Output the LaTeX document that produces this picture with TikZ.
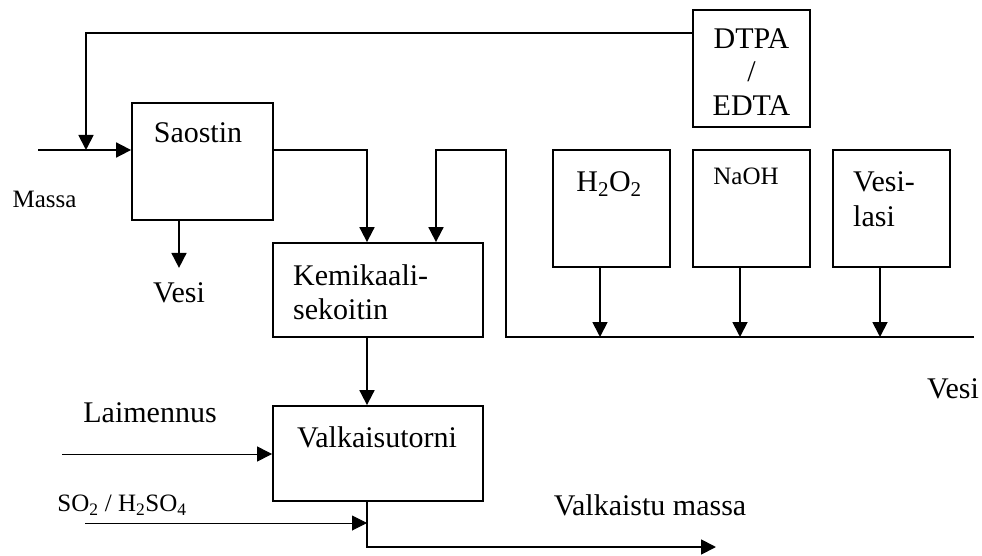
\documentclass[tikz,border=0pt]{standalone}
\usepackage{fontspec}
\setmainfont{Liberation Serif}
\usetikzlibrary{arrows.meta}
\tikzset{
  box/.style={draw, line width=1.8pt, inner sep=0pt},
  flow/.style={line width=1.8pt, -{Triangle[length=15pt,width=15pt]}},
  thinflow/.style={line width=1pt, -{Triangle[length=15pt,width=15pt]}},
  big/.style={font=\fontsize{30}{34}\selectfont, inner sep=0pt},
  small/.style={font=\fontsize{25}{30}\selectfont, inner sep=0pt}
}
\begin{document}
\begin{tikzpicture}[x=1pt,y=-1pt]
\useasboundingbox (0,0) rectangle (982,556);
% boxes
\node[box, minimum width=141pt, minimum height=117pt] (saostin) at (202.5,161.5) {};
\node[box, minimum width=117pt, minimum height=117pt] (dtpa) at (751.5,68.5) {};
\node[box, minimum width=117pt, minimum height=117pt] (h2o2) at (611.5,208.5) {};
\node[box, minimum width=117pt, minimum height=117pt] (naoh) at (751.5,208.5) {};
\node[box, minimum width=117pt, minimum height=117pt] (vesilasi) at (891.5,208.5) {};
\node[box, minimum width=210pt, minimum height=94pt] (kemi) at (378,290) {};
\node[box, minimum width=210pt, minimum height=95pt] (valk) at (378,453.5) {};
% texts
\node[big] (tsaostin) at (198,133) {Saostin};
\node[small] (tmassa) at (44.5,199) {Massa};
\node[big] (tvesi1) at (179,293) {Vesi};
\node[big, align=left, anchor=west] (tkemi) at (293,292) {Kemikaali-\\sekoitin};
\node[big] (tvalk) at (377,437) {Valkaisutorni};
\node[big] (tlaim) at (150,413) {Laimennus};
\node[small] (tso2) at (122,505) {SO\textsubscript{2} / H\textsubscript{2}SO\textsubscript{4}};
\node[big] (tvalm) at (650,505) {Valkaistu massa};
\node[big] (tvesi2) at (953,389) {Vesi};
\node[big, align=center, font=\fontsize{30}{33.5}\selectfont] (tdtpa) at (751.5,72) {DTPA\\/\\EDTA};
\node[big] (th2o2) at (609,184) {H\textsubscript{2}O\textsubscript{2}};
\node[small] (tnaoh) at (746,176) {NaOH};
\node[big, align=left, anchor=west, font=\fontsize{30}{35}\selectfont] (tvl) at (853,199) {Vesi-\\lasi};
% coordinates
\coordinate (top) at (86,33);
\coordinate (massain) at (38,150);
\coordinate (junc) at (86,150);
\coordinate (wend) at (974,337);
\coordinate (wcorner) at (506,150);
\coordinate (lain) at (62,454);
\coordinate (so2in) at (85,523);
\coordinate (outend) at (716,547);
% connectors
\draw[flow] (dtpa.west |- top) -- (top) -- (junc);
\draw[flow] (massain) -- (saostin.west |- massain);
\draw[flow] ([xshift=-23.5pt]saostin.south) -- ++(0,47);
\draw[flow] (saostin.east |- massain) -| ([xshift=-11pt]kemi.north);
\draw[flow] (wend) -| (wcorner) -| ([xshift=58pt]kemi.north);
\draw[flow] ([xshift=-11.5pt]h2o2.south) -- ([xshift=-11.5pt]h2o2.south |- wend);
\draw[flow] ([xshift=-11.5pt]naoh.south) -- ([xshift=-11.5pt]naoh.south |- wend);
\draw[flow] ([xshift=-11.5pt]vesilasi.south) -- ([xshift=-11.5pt]vesilasi.south |- wend);
\draw[flow] ([xshift=-11pt]kemi.south) -- ([xshift=-11pt]valk.north);
\draw[thinflow] (lain) -- (valk.west |- lain);
\draw[thinflow] (so2in) -- ([xshift=-11pt]valk.south |- so2in);
\draw[flow] ([xshift=-11pt]valk.south) |- (outend);
\end{tikzpicture}
\end{document}
